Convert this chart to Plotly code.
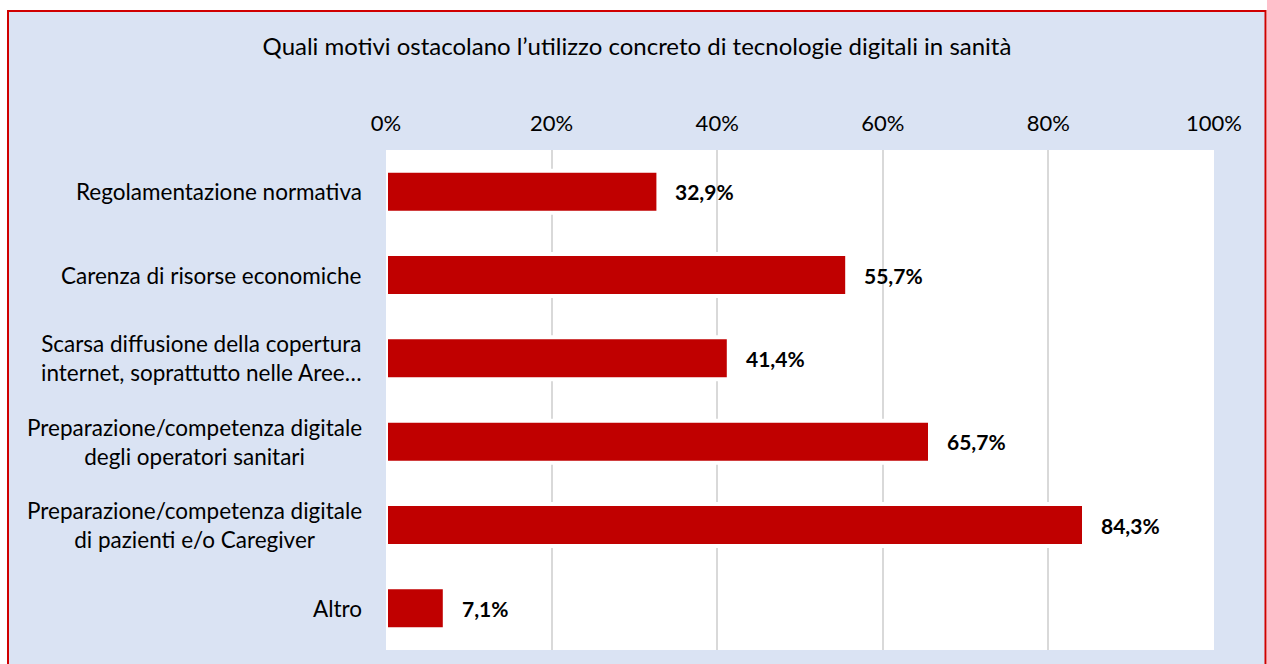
import plotly.graph_objects as go

title_text = "Quali motivi ostacolano l\u2019utilizzo concreto di tecnologie digitali in sanità"
categories = [
    "Regolamentazione normativa",
    "Carenza di risorse economiche",
    "Scarsa diffusione della copertura<br>internet, soprattutto nelle Aree\u2026",
    "Preparazione/competenza digitale<br>degli operatori sanitari",
    "Preparazione/competenza digitale<br>di pazienti e/o Caregiver",
    "Altro",
]
values = [32.9, 55.7, 41.4, 65.7, 84.3, 7.1]
value_labels = ["32,9%", "55,7%", "41,4%", "65,7%", "84,3%", "7,1%"]
tick_values = [0, 20, 40, 60, 80, 100]
tick_labels = ["0%", "20%", "40%", "60%", "80%", "100%"]

W, H = 1267, 664
ML, MT = 386, 150
MR = W - 1214
MB = H - 650
PW, PH = W - ML - MR, H - MT - MB
FONT = "Lato, 'Open Sans', sans-serif"


def px_x(px):
    return (px - ML) / PW


def px_y(py):
    return (H - MB - py) / PH


fig = go.Figure()
fig.add_trace(go.Bar(
    x=values, y=categories, orientation="h",
    marker=dict(color="#C00000", line=dict(color="#FFFFFF", width=4)),
    width=0.505, hoverinfo="x+y",
))

annotations = []
for c in categories:
    annotations.append(dict(
        x=0, xref="x domain", y=c, yref="y", text=c, showarrow=False,
        xanchor="right", yanchor="middle", align="center", xshift=-22,
        font=dict(family=FONT, size=22.5, color="#000000"),
    ))
for c, v, t in zip(categories, values, value_labels):
    annotations.append(dict(
        x=v, xref="x", y=c, yref="y", text="<b>" + t + "</b>", showarrow=False,
        xanchor="left", yanchor="middle", xshift=15,
        font=dict(family=FONT, size=21, color="#000000"),
    ))

shapes = [
    dict(type="rect", xref="paper", yref="paper", layer="below",
         x0=px_x(8), x1=px_x(1265.5), y0=px_y(720), y1=px_y(11),
         fillcolor="#DAE3F3", line=dict(color="#D00000", width=2)),
    dict(type="rect", xref="paper", yref="paper", layer="below",
         x0=0, x1=1, y0=0, y1=1, fillcolor="#FFFFFF", line=dict(width=0)),
]

fig.update_layout(
    width=W, height=H,
    margin=dict(l=ML, r=MR, t=MT, b=MB, pad=0),
    paper_bgcolor="#FFFFFF", plot_bgcolor="#FFFFFF",
    showlegend=False,
    title=dict(text=title_text, x=637 / W, xref="container", xanchor="center",
               y=1 - 47 / H, yref="container", yanchor="middle",
               font=dict(family=FONT, size=24, color="#000000")),
    xaxis=dict(range=[0, 100], side="top", tickvals=tick_values, ticktext=tick_labels,
               showgrid=True, gridcolor="#D9D9D9", gridwidth=1.5, zeroline=False,
               showline=False, ticks="", ticklabelstandoff=14,
               tickfont=dict(family=FONT, size=22, color="#000000"), fixedrange=True),
    yaxis=dict(categoryorder="array", categoryarray=categories, autorange="reversed",
               showticklabels=False, showgrid=False, zeroline=False, showline=False,
               ticks="", fixedrange=True),
    annotations=annotations,
    shapes=shapes,
    bargap=0.5,
)

fig.write_html(
    "out.html",
    config={"displayModeBar": False},
    post_script="document.body.style.margin='0';document.body.style.overflow='hidden';",
)
